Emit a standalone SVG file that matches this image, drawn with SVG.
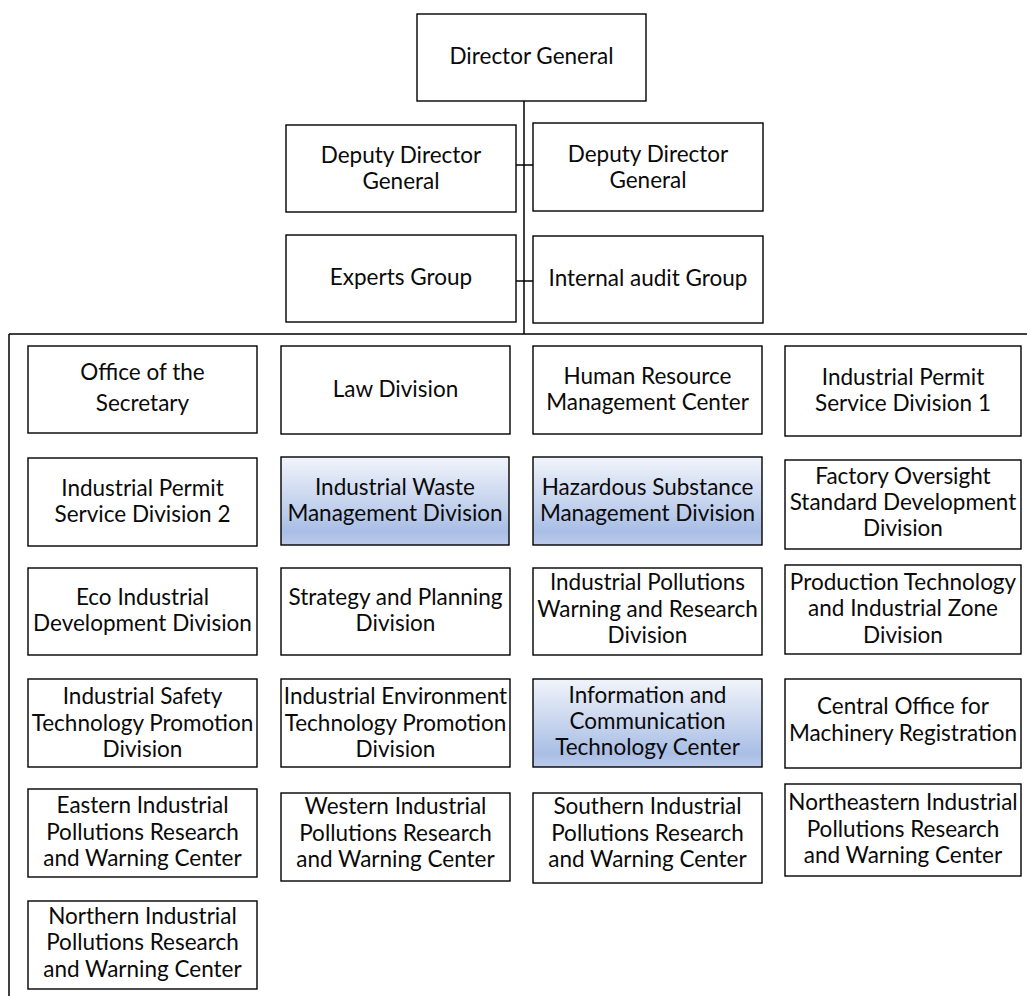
<svg xmlns="http://www.w3.org/2000/svg" width="1027" height="996" viewBox="0 0 1027 996">
  <style>
    .box { fill: #ffffff; stroke: #000000; stroke-width: 1.4; }
    .hl { fill: url(#blueFill); stroke: #000000; stroke-width: 1.4; }
    .lbl { font-family: "Lato", "Open Sans", sans-serif; font-size: 22.5px; fill: #0a0a0a; text-anchor: middle; }
    .wire { stroke: #000000; stroke-width: 1.5; fill: none; }
  </style>
  <defs>
    <linearGradient id="blueFill" x1="0" y1="0" x2="0" y2="1">
      <stop offset="0" stop-color="#f1f4fb"/>
      <stop offset="0.85" stop-color="#a9bee5"/>
      <stop offset="1" stop-color="#bccbea"/>
    </linearGradient>
  </defs>
  <rect width="1027" height="996" fill="#ffffff"/>

  <!-- reporting lines -->
  <g id="connectors">
    <path class="wire" d="M524,101 V334"/>
    <path class="wire" d="M516,165 H533"/>
    <path class="wire" d="M516,281 H533"/>
    <path class="wire" d="M9,334 H1027"/>
    <path class="wire" d="M9,334 V996"/>
  </g>

  <!-- executive level -->
  <g id="director-general">
    <rect class="box" x="417" y="14" width="229" height="87"/>
    <text class="lbl" x="531.5" y="64">Director General</text>
  </g>
  <g id="deputy-dg-left">
    <rect class="box" x="286" y="125" width="230" height="87"/>
    <text class="lbl" x="401" y="163">Deputy Director</text>
    <text class="lbl" x="401" y="189">General</text>
  </g>
  <g id="deputy-dg-right">
    <rect class="box" x="533" y="123" width="230" height="88"/>
    <text class="lbl" x="648" y="162">Deputy Director</text>
    <text class="lbl" x="648" y="188">General</text>
  </g>
  <g id="experts-group">
    <rect class="box" x="286" y="235" width="230" height="87"/>
    <text class="lbl" x="401" y="285">Experts Group</text>
  </g>
  <g id="internal-audit-group">
    <rect class="box" x="533" y="236" width="230" height="87"/>
    <text class="lbl" x="648" y="286">Internal audit Group</text>
  </g>

  <!-- row 1 -->
  <g id="office-secretary">
    <rect class="box" x="28" y="346" width="229" height="87"/>
    <text class="lbl" x="142.5" y="379.5">Office of the</text>
    <text class="lbl" x="142.5" y="410.5">Secretary</text>
  </g>
  <g id="law-division">
    <rect class="box" x="281" y="346" width="229" height="88"/>
    <text class="lbl" x="395.5" y="396.5">Law Division</text>
  </g>
  <g id="hr-center">
    <rect class="box" x="533" y="346" width="229" height="88"/>
    <text class="lbl" x="647.5" y="384">Human Resource</text>
    <text class="lbl" x="647.5" y="410">Management Center</text>
  </g>
  <g id="permit-division-1">
    <rect class="box" x="785" y="346" width="236" height="90"/>
    <text class="lbl" x="903" y="385">Industrial Permit</text>
    <text class="lbl" x="903" y="411">Service Division 1</text>
  </g>

  <!-- row 2 -->
  <g id="permit-division-2">
    <rect class="box" x="28" y="458" width="229" height="88"/>
    <text class="lbl" x="142.5" y="496">Industrial Permit</text>
    <text class="lbl" x="142.5" y="522">Service Division 2</text>
  </g>
  <g id="waste-division">
    <rect class="hl" x="281" y="457" width="228" height="88"/>
    <text class="lbl" x="395" y="495">Industrial Waste</text>
    <text class="lbl" x="395" y="521">Management Division</text>
  </g>
  <g id="hazardous-division">
    <rect class="hl" x="533" y="457" width="229" height="88"/>
    <text class="lbl" x="647.5" y="495">Hazardous Substance</text>
    <text class="lbl" x="647.5" y="521">Management Division</text>
  </g>
  <g id="factory-oversight">
    <rect class="box" x="785" y="460" width="236" height="89"/>
    <text class="lbl" x="903" y="483.5">Factory Oversight</text>
    <text class="lbl" x="903" y="509.5">Standard Development</text>
    <text class="lbl" x="903" y="535.5">Division</text>
  </g>

  <!-- row 3 -->
  <g id="eco-industrial">
    <rect class="box" x="28" y="568" width="229" height="87"/>
    <text class="lbl" x="142.5" y="605">Eco Industrial</text>
    <text class="lbl" x="142.5" y="631">Development Division</text>
  </g>
  <g id="strategy-planning">
    <rect class="box" x="281" y="568" width="229" height="87"/>
    <text class="lbl" x="395.5" y="605">Strategy and Planning</text>
    <text class="lbl" x="395.5" y="631">Division</text>
  </g>
  <g id="pollution-warning-division">
    <rect class="box" x="533" y="568" width="229" height="87"/>
    <text class="lbl" x="647.5" y="590">Industrial Pollutions</text>
    <text class="lbl" x="647.5" y="617">Warning and Research</text>
    <text class="lbl" x="647.5" y="643">Division</text>
  </g>
  <g id="production-technology">
    <rect class="box" x="785" y="565" width="236" height="89"/>
    <text class="lbl" x="903" y="590">Production Technology</text>
    <text class="lbl" x="903" y="616">and Industrial Zone</text>
    <text class="lbl" x="903" y="642.5">Division</text>
  </g>

  <!-- row 4 -->
  <g id="safety-technology">
    <rect class="box" x="28" y="679" width="229" height="88"/>
    <text class="lbl" x="142.5" y="704">Industrial Safety</text>
    <text class="lbl" x="142.5" y="730.5">Technology Promotion</text>
    <text class="lbl" x="142.5" y="757">Division</text>
  </g>
  <g id="environment-technology">
    <rect class="box" x="281" y="679" width="229" height="88"/>
    <text class="lbl" x="395.5" y="704">Industrial Environment</text>
    <text class="lbl" x="395.5" y="730.5">Technology Promotion</text>
    <text class="lbl" x="395.5" y="757">Division</text>
  </g>
  <g id="ict-center">
    <rect class="hl" x="533" y="679" width="229" height="88"/>
    <text class="lbl" x="647.5" y="702.5">Information and</text>
    <text class="lbl" x="647.5" y="728.5">Communication</text>
    <text class="lbl" x="647.5" y="754.5">Technology Center</text>
  </g>
  <g id="machinery-registration">
    <rect class="box" x="785" y="679" width="236" height="89"/>
    <text class="lbl" x="903" y="714">Central Office for</text>
    <text class="lbl" x="903" y="741">Machinery Registration</text>
  </g>

  <!-- row 5: regional centers -->
  <g id="eastern-center">
    <rect class="box" x="28" y="789" width="229" height="88"/>
    <text class="lbl" x="142.5" y="813">Eastern Industrial</text>
    <text class="lbl" x="142.5" y="839.5">Pollutions Research</text>
    <text class="lbl" x="142.5" y="866">and Warning Center</text>
  </g>
  <g id="western-center">
    <rect class="box" x="281" y="793" width="229" height="88"/>
    <text class="lbl" x="395.5" y="814">Western Industrial</text>
    <text class="lbl" x="395.5" y="840.5">Pollutions Research</text>
    <text class="lbl" x="395.5" y="867">and Warning Center</text>
  </g>
  <g id="southern-center">
    <rect class="box" x="533" y="793" width="229" height="90"/>
    <text class="lbl" x="647.5" y="814">Southern Industrial</text>
    <text class="lbl" x="647.5" y="840.5">Pollutions Research</text>
    <text class="lbl" x="647.5" y="867">and Warning Center</text>
  </g>
  <g id="northeastern-center">
    <rect class="box" x="785" y="784" width="236" height="92"/>
    <text class="lbl" x="903" y="810">Northeastern Industrial</text>
    <text class="lbl" x="903" y="836.5">Pollutions Research</text>
    <text class="lbl" x="903" y="863">and Warning Center</text>
  </g>

  <!-- row 6 -->
  <g id="northern-center">
    <rect class="box" x="28" y="901" width="229" height="88"/>
    <text class="lbl" x="142.5" y="923.5">Northern Industrial</text>
    <text class="lbl" x="142.5" y="950">Pollutions Research</text>
    <text class="lbl" x="142.5" y="976.5">and Warning Center</text>
  </g>
</svg>
